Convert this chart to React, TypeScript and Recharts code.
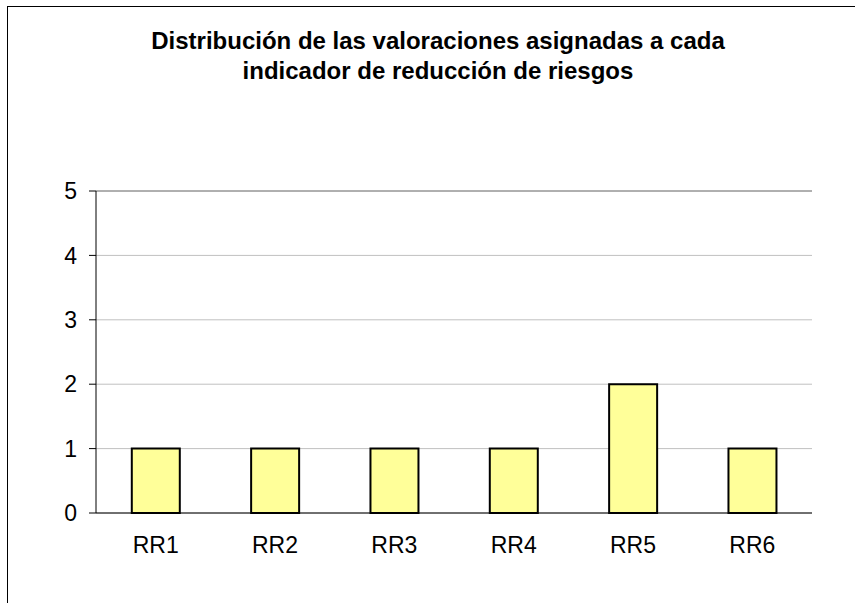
import React from 'react';
import { BarChart, Bar, XAxis, YAxis, CartesianGrid, ReferenceLine } from 'recharts';

const categories = ['RR1', 'RR2', 'RR3', 'RR4', 'RR5', 'RR6'];
const values = [1, 1, 1, 1, 2, 1];
const yTicks = [0, 1, 2, 3, 4, 5];
const titleLines = [
  'Distribución de las valoraciones asignadas a cada',
  'indicador de reducción de riesgos',
];

const data = categories.map((c, i) => ({ name: c, value: values[i] }));

const FONT = '"Liberation Sans", Arial, sans-serif';

export default function App() {
  return (
    <div style={{ position: 'absolute', left: 0, top: 0, width: 855, height: 603, overflow: 'hidden', background: '#fff' }}>
      <div style={{ position: 'absolute', left: 7, top: 6, width: 1000, height: 1000, borderLeft: '1px solid #000', borderTop: '1px solid #000' }} />
      <div style={{ position: 'absolute', left: 0, top: 0 }}>
        <BarChart width={855} height={603} data={data} margin={{ top: 191, right: 43, bottom: 50, left: 36 }} barCategoryGap="30%">
          <CartesianGrid horizontal vertical={false} stroke="#c0c0c0" />
          <XAxis
            dataKey="name"
            tickLine={false}
            axisLine={{ stroke: '#000', strokeWidth: 1 }}
            tickSize={6}
            tickMargin={18}
            height={40}
            tick={{ fill: '#000', fontSize: 23, fontFamily: FONT }}
          />
          <YAxis
            domain={[0, 5]}
            ticks={yTicks}
            width={60}
            axisLine={{ stroke: '#000', strokeWidth: 1 }}
            tickLine={{ stroke: '#000' }}
            tickSize={7}
            tickMargin={12}
            tick={{ fill: '#000', fontSize: 23, fontFamily: FONT }}
          />
          <YAxis yAxisId="right" orientation="right" width={0} tick={false} tickLine={false} axisLine={{ stroke: '#808080' }} />
          <ReferenceLine y={5} stroke="#808080" />
          <Bar dataKey="value" fill="#FFFF99" stroke="#000" strokeWidth={2} isAnimationActive={false} />
        </BarChart>
      </div>
      <svg style={{ position: 'absolute', left: 0, top: 0 }} width={855} height={120}>
        {titleLines.map((t, i) => (
          <text key={i} x={438} y={49 + i * 30} textAnchor="middle" fontFamily={FONT} fontWeight="bold" fontSize={24} fill="#000">
            {t}
          </text>
        ))}
      </svg>
    </div>
  );
}
